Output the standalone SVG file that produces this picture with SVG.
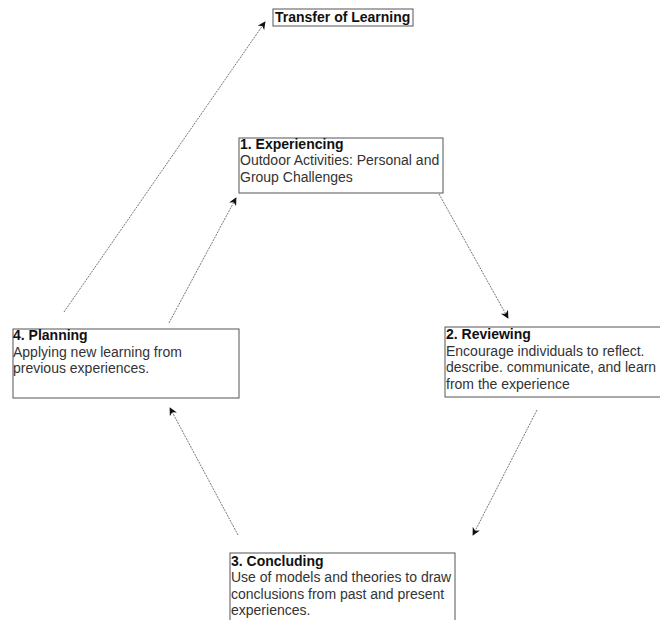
<svg xmlns="http://www.w3.org/2000/svg" width="660" height="620" viewBox="0 0 660 620">
<style>
.box{fill:#fff;stroke:#555;stroke-width:1}
.t{font-family:"Liberation Sans",Arial,sans-serif;font-size:14px;font-weight:bold;fill:#111}
.b{font-family:"Liberation Sans",Arial,sans-serif;font-size:14px;fill:#333}
.c{fill:none;stroke:#666;stroke-width:0.9;stroke-dasharray:2 1}
</style>
<defs>
<marker id="ah" viewBox="0 0 10 10" refX="9" refY="5" markerWidth="8" markerHeight="8" orient="auto" markerUnits="userSpaceOnUse">
<path d="M0,0 L10,5 L0,10 L3,5 Z" fill="#111"/>
</marker>
</defs>
<rect width="660" height="620" fill="#fff"/>
<g id="connectors">
<line class="c" x1="64" y1="312" x2="265" y2="22" marker-end="url(#ah)"/>
<line class="c" x1="169" y1="323" x2="236" y2="198" marker-end="url(#ah)"/>
<line class="c" x1="439" y1="194" x2="508" y2="318" marker-end="url(#ah)"/>
<line class="c" x1="537" y1="410" x2="473" y2="535" marker-end="url(#ah)"/>
<line class="c" x1="238" y1="535" x2="170" y2="408" marker-end="url(#ah)"/>
</g>
<g id="transfer">
<rect class="box" x="273" y="9" width="140" height="17"/>
<text class="t" x="275" y="22">Transfer of Learning</text>
</g>
<g id="experiencing">
<rect class="box" x="239" y="138" width="204" height="55"/>
<text class="t" x="240" y="149">1. Experiencing</text>
<text class="b" x="240" y="165">Outdoor Activities: Personal and</text>
<text class="b" x="240" y="182">Group Challenges</text>
</g>
<g id="reviewing">
<rect class="box" x="445" y="327" width="220" height="70"/>
<text class="t" x="446" y="339">2. Reviewing</text>
<text class="b" x="446" y="356">Encourage individuals to reflect.</text>
<text class="b" x="446" y="372">describe. communicate, and learn</text>
<text class="b" x="446" y="389">from the experience</text>
</g>
<g id="concluding">
<rect class="box" x="230" y="553" width="225" height="80"/>
<text class="t" x="231" y="566">3. Concluding</text>
<text class="b" x="231" y="582">Use of models and theories to draw</text>
<text class="b" x="231" y="599">conclusions from past and present</text>
<text class="b" x="231" y="615">experiences.</text>
</g>
<g id="planning">
<rect class="box" x="13" y="329" width="226" height="69"/>
<text class="t" x="13" y="340">4. Planning</text>
<text class="b" x="13" y="357">Applying new learning from</text>
<text class="b" x="13" y="373">previous experiences.</text>
</g>
</svg>
